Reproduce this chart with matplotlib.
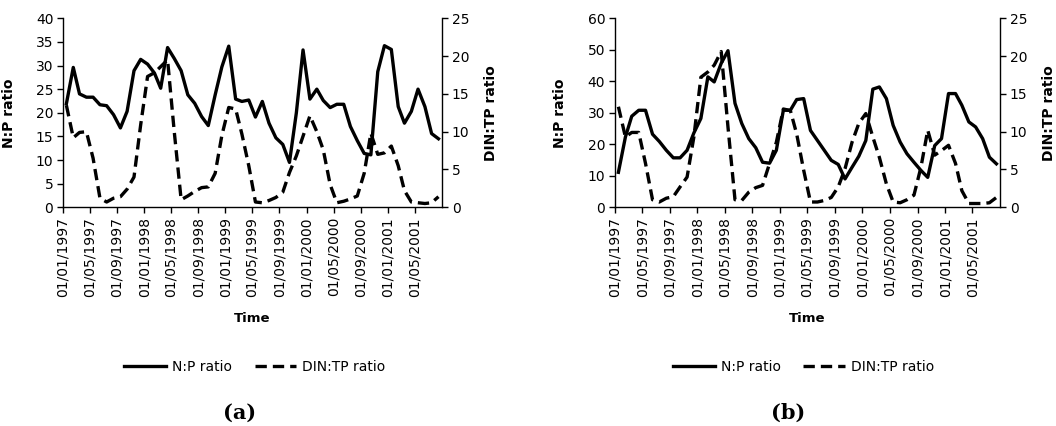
import matplotlib
matplotlib.use("Agg")
import matplotlib.pyplot as plt
import matplotlib.dates as mdates
from matplotlib.lines import Line2D
import pandas as pd

# Monthly samples, Jan 1997 - Aug 2001
months = pd.date_range("1997-01-01", periods=56, freq="MS")
tick_dates = pd.date_range("1997-01-01", "2001-05-01", freq="4MS")

# Panel (a)
np_ratio_a = [21.9, 29.6, 24.0, 23.3, 23.3, 21.7, 21.5, 19.6, 16.8, 20.3,
              28.9, 31.3, 30.3, 28.4, 25.2, 33.8, 31.5, 28.9, 23.8, 22.0,
              19.2, 17.3, 23.8, 29.7, 34.1, 22.9, 22.4, 22.7, 19.1, 22.4,
              17.8, 14.7, 13.3, 9.5, 20.0, 33.3, 22.9, 25.0, 22.6, 21.1,
              21.8, 21.8, 17.1, 14.1, 11.4, 11.1, 28.7, 34.2, 33.4, 21.3,
              17.8, 20.3, 25.0, 21.3, 15.6, 14.5]
din_tp_a = [13.5, 9.2, 9.9, 10.0, 6.5, 1.2, 0.7, 1.2, 1.4, 2.4,
            4.0, 10.9, 17.3, 17.8, 18.6, 19.5, 10.0, 1.0, 1.5, 2.1,
            2.6, 2.7, 4.5, 9.5, 13.2, 13.0, 9.7, 5.5, 0.7, 0.6,
            0.9, 1.3, 2.0, 4.6, 6.8, 9.4, 12.1, 10.0, 7.6, 3.0,
            0.6, 0.8, 1.1, 1.5, 4.5, 9.8, 7.0, 7.2, 8.1, 5.5,
            2.2, 0.7, 0.6, 0.5, 0.6, 1.4]

# Panel (b)
np_ratio_b = [11.1, 22.3, 28.9, 30.8, 30.8, 23.2, 20.9, 18.1, 15.7, 15.7,
              18.1, 23.6, 28.2, 41.4, 39.8, 45.7, 49.7, 33.0, 26.6, 21.8,
              18.9, 14.3, 14.0, 18.1, 30.8, 30.8, 34.2, 34.5, 24.4, 21.2,
              18.1, 14.9, 13.6, 9.0, 12.7, 16.2, 21.2, 37.5, 38.2, 34.5,
              26.0, 20.7, 17.0, 14.3, 11.7, 9.5, 19.6, 21.8, 36.1, 36.1,
              32.4, 27.1, 25.5, 21.8, 15.9, 13.8]
din_tp_b = [13.3, 9.3, 9.9, 9.9, 5.8, 1.0, 0.7, 1.2, 1.4, 2.7,
            4.0, 9.3, 17.2, 17.9, 18.8, 20.6, 10.6, 1.0, 0.9, 2.0,
            2.6, 2.9, 5.8, 8.6, 13.0, 12.8, 9.7, 4.9, 0.7, 0.7,
            0.9, 1.3, 2.7, 5.1, 8.6, 11.1, 12.4, 9.3, 6.6, 3.1,
            0.7, 0.6, 1.0, 1.6, 5.3, 10.2, 6.9, 7.5, 8.2, 5.8,
            2.2, 0.5, 0.5, 0.5, 0.6, 1.3]

plt.rcParams["font.family"] = ["DejaVu Sans"]
LW = 2.4
DASH = (3.4, 1.8)


def draw_panel(fig, rect, np_vals, din_vals, np_max, np_step, tag, legend_x):
    ax = fig.add_axes(rect)
    ax2 = ax.twinx()
    # points sit in the middle of each month, like an Excel date axis
    x = months + pd.Timedelta(days=15)

    ax.plot(x, np_vals, color="black", lw=LW)
    ax2.plot(x, din_vals, color="black", lw=LW, dashes=DASH)

    ax.set_xlim(pd.Timestamp("1997-01-01"), pd.Timestamp("2001-09-01"))
    ax.set_ylim(0, np_max)
    ax.set_yticks(range(0, np_max + 1, np_step))
    ax2.set_ylim(0, 25)
    ax2.set_yticks(range(0, 26, 5))

    ax.set_xticks(tick_dates)
    ax.xaxis.set_major_formatter(mdates.DateFormatter("%d/%m/%Y"))
    for lab in ax.get_xticklabels():
        lab.set_rotation(90)

    for a in (ax, ax2):
        a.spines["top"].set_visible(False)
        for s in a.spines.values():
            s.set_linewidth(1.0)
        a.tick_params(direction="out", length=4, width=1.0, labelsize=10, pad=3)
    ax.spines["right"].set_visible(False)
    ax2.spines["left"].set_visible(False)
    ax2.spines["bottom"].set_visible(False)

    ax.set_ylabel("N:P ratio", fontsize=10, fontweight="bold")
    ax2.set_ylabel("DIN:TP ratio", fontsize=10, fontweight="bold")
    ax.set_xlabel("Time", fontsize=9.5, fontweight="bold")
    ax.yaxis.set_label_coords(-0.125, 0.5)
    ax2.yaxis.set_label_coords(1.11, 0.5)
    ax.xaxis.set_label_coords(0.5, -0.555)

    handles = [Line2D([], [], color="black", lw=LW),
               Line2D([], [], color="black", lw=LW, dashes=DASH)]
    fig.legend(handles, ["N:P ratio", "DIN:TP ratio"], loc="center",
               bbox_to_anchor=(legend_x, 0.1385), ncol=2, frameon=False,
               fontsize=10, handlelength=3, handletextpad=0.45, columnspacing=1.6)
    fig.text(legend_x - 0.015, 0.03, tag, ha="center", va="center",
             fontsize=15, fontweight="bold", family="DejaVu Serif")


fig = plt.figure(figsize=(10.56, 4.26), dpi=100)
draw_panel(fig, [0.0597, 0.5134, 0.3589, 0.4437], np_ratio_a, din_tp_a, 40, 5, "(a)", 0.2415)
draw_panel(fig, [0.5824, 0.5134, 0.3646, 0.4437], np_ratio_b, din_tp_b, 60, 10, "(b)", 0.761)

fig.savefig("out.png", dpi=100)
